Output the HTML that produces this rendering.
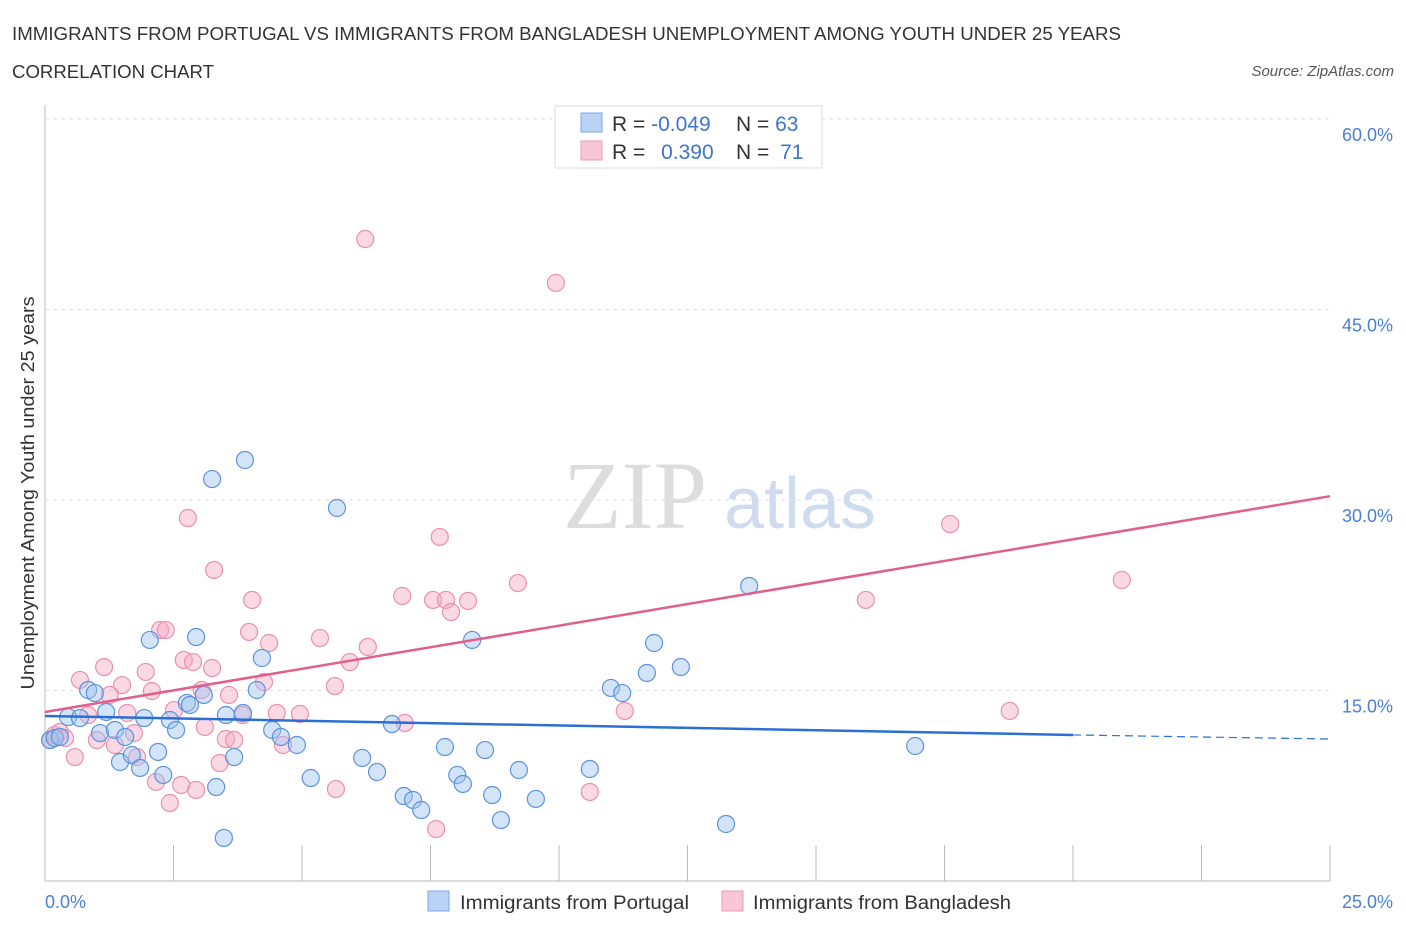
<!DOCTYPE html>
<html><head><meta charset="utf-8"><style>
body{margin:0;background:#fff;font-family:"Liberation Sans",sans-serif;}
svg text{font-family:"Liberation Sans",sans-serif;}
</style></head><body>
<svg id="c" width="1406" height="930" xmlns="http://www.w3.org/2000/svg">
<text x="12" y="40" font-size="18" fill="#333" textLength="1109" lengthAdjust="spacingAndGlyphs">IMMIGRANTS FROM PORTUGAL VS IMMIGRANTS FROM BANGLADESH UNEMPLOYMENT AMONG YOUTH UNDER 25 YEARS</text>
<text x="12" y="78" font-size="18" fill="#333" textLength="202" lengthAdjust="spacingAndGlyphs">CORRELATION CHART</text>
<text x="1394" y="76" font-size="15" fill="#555" font-style="italic" text-anchor="end">Source: ZipAtlas.com</text>
<text x="635" y="528" font-size="96" fill="#ddd" text-anchor="middle" style="font-family:'Liberation Serif',serif">ZIP</text>
<text x="800" y="528" font-size="72" fill="#cfdcf0" text-anchor="middle">atlas</text>
<g id="grid"></g><g id="marks"></g>
<text transform="translate(34,493) rotate(-90)" font-size="18" fill="#333" text-anchor="middle" textLength="393" lengthAdjust="spacingAndGlyphs">Unemployment Among Youth under 25 years</text>
<text x="45" y="908" font-size="18" fill="#4a7fd4">0.0%</text>
<text x="1393" y="908" font-size="18" fill="#4a7fd4" text-anchor="end">25.0%</text>
<rect x="555" y="106" width="267" height="62" fill="#fff" stroke="#ddd"/>
<rect x="581" y="113" width="21" height="19" fill="#b8d3f5" stroke="#7aa7e6"/>
<rect x="581" y="141" width="21" height="19" fill="#f9c6d6" stroke="#eb99b4"/>
<text x="612" y="131" font-size="21" fill="#333">R = <tspan fill="#3d74cc">-0.049</tspan></text>
<text x="736" y="131" font-size="21" fill="#333">N = <tspan fill="#3d74cc">63</tspan></text>
<text x="612" y="159" font-size="21" fill="#333">R = <tspan fill="#3d74cc" dx="10">0.390</tspan></text>
<text x="736" y="159" font-size="21" fill="#333">N = <tspan fill="#3d74cc" dx="5">71</tspan></text>
<rect x="428" y="891" width="21" height="20" fill="#b8d3f5" stroke="#7aa7e6"/>
<text x="460" y="909" font-size="19" fill="#333" textLength="229" lengthAdjust="spacingAndGlyphs">Immigrants from Portugal</text>
<rect x="722" y="891" width="21" height="20" fill="#f9c6d6" stroke="#eb99b4"/>
<text x="753" y="909" font-size="19" fill="#333" textLength="258" lengthAdjust="spacingAndGlyphs">Immigrants from Bangladesh</text>
</svg>
<script>
const yTicks=[15,30,45,60];
const yTickLabels=["15.0%","30.0%","45.0%","60.0%"];
const xTicks=[0,2.5,5,7.5,10,12.5,15,17.5,20,22.5,25];
const blueX=[0.10,0.19,0.29,0.45,0.68,0.84,0.97,1.07,1.19,1.36,1.46,1.56,1.69,1.85,1.93,2.04,2.20,2.30,2.43,2.55,2.76,2.82,2.94,3.09,3.25,3.33,3.48,3.52,3.68,3.85,3.89,4.12,4.22,4.42,4.59,4.90,5.17,5.68,6.17,6.46,6.75,6.98,7.16,7.32,7.78,8.02,8.13,8.31,8.56,8.70,8.87,9.22,9.55,10.60,11.01,11.23,11.71,11.85,12.37,13.25,13.70,16.93];
const blueY=[11.10,11.26,11.34,12.91,12.83,15.04,14.80,11.65,13.31,11.89,9.37,11.34,9.92,8.90,12.83,18.98,10.16,8.35,12.68,11.89,14.02,13.86,19.21,14.65,31.65,7.40,3.39,13.07,9.76,13.23,33.15,15.04,17.56,11.89,11.34,10.71,8.11,29.37,9.69,8.58,12.36,6.69,6.38,5.59,10.55,8.35,7.64,18.98,10.31,6.77,4.80,8.74,6.46,8.82,15.20,14.80,16.38,18.74,16.85,4.49,23.23,10.63];
const pinkX=[0.10,0.19,0.29,0.39,0.58,0.68,0.84,1.01,1.15,1.26,1.36,1.50,1.60,1.73,1.79,1.96,2.08,2.16,2.24,2.35,2.43,2.51,2.65,2.70,2.78,2.88,2.94,3.05,3.11,3.25,3.29,3.40,3.52,3.58,3.68,3.85,3.97,4.03,4.26,4.36,4.51,4.63,4.96,5.35,5.64,5.66,5.93,6.23,6.28,6.95,7.00,7.55,7.61,7.68,7.80,7.90,8.23,9.20,9.94,10.60,11.28,15.97,17.61,18.77,20.95];
const pinkY=[11.10,11.50,11.73,11.26,9.76,15.83,13.07,11.10,16.85,14.65,10.71,15.43,13.23,11.65,9.76,16.46,14.96,7.80,19.76,19.76,6.14,13.46,7.56,17.40,28.58,17.24,7.17,15.04,12.13,16.77,24.49,9.29,11.18,14.65,11.10,13.07,19.61,22.13,15.67,18.74,13.23,10.71,13.15,19.13,15.35,7.24,17.24,50.55,18.43,22.44,12.44,22.13,4.09,27.09,22.13,21.18,22.05,23.46,47.09,7.01,13.39,22.13,28.11,13.39,23.70];
const blueTrend=[[0,12.99],[20,11.5],[25,11.18]];
const pinkTrend=[[0,13.31],[25,30.3]];
const NS='http://www.w3.org/2000/svg';
const X=v=>45+v/25*1285, Y=v=>881-v*12.7;
const grid=document.getElementById('grid'), marks=document.getElementById('marks');
function mk(tag,at,parent){const e=document.createElementNS(NS,tag);for(const k in at)e.setAttribute(k,at[k]);parent.appendChild(e);return e;}
let ax=mk('line',{x1:45,y1:105,x2:45,y2:881,stroke:'#bbb'},grid);


let bx=mk('line',{x1:45,y1:881,x2:1330,y2:881,stroke:'#bbb'},grid);


yTicks.forEach((t,i)=>{
 let g=mk('line',{x1:45,y1:Y(t),x2:1330,y2:Y(t),stroke:'#e2e2e2','stroke-dasharray':'4,4'},grid);
 
 
 let tx=mk('text',{x:1393,y:Y(t)+22,'font-size':18,fill:'#4a7fd4','text-anchor':'end'},grid);tx.textContent=yTickLabels[i];
 
 
});
xTicks.forEach(t=>{let l=mk('line',{x1:X(t),y1:845,x2:X(t),y2:881,stroke:'#bbb'},grid);
 
 });
pinkX.forEach((x,i)=>{let c=mk('circle',{cx:X(x),cy:Y(pinkY[i]),r:8.5,fill:'rgba(244,170,195,0.45)',stroke:'#e990ae','stroke-width':1.2},marks);
 
 });
blueX.forEach((x,i)=>{let c=mk('circle',{cx:X(x),cy:Y(blueY[i]),r:8.5,fill:'rgba(160,195,240,0.45)',stroke:'#5c93dc','stroke-width':1.2},marks);
 
 });
let pl=mk('line',{x1:X(pinkTrend[0][0]),y1:Y(pinkTrend[0][1]),x2:X(pinkTrend[1][0]),y2:Y(pinkTrend[1][1]),stroke:'#e0608c','stroke-width':2.5},marks);


let bl=mk('line',{x1:X(blueTrend[0][0]),y1:Y(blueTrend[0][1]),x2:X(blueTrend[1][0]),y2:Y(blueTrend[1][1]),stroke:'#2b6fd4','stroke-width':2.5},marks);


let bd=mk('line',{x1:X(blueTrend[1][0]),y1:Y(blueTrend[1][1]),x2:X(blueTrend[2][0]),y2:Y(blueTrend[2][1]),stroke:'#2b6fd4','stroke-width':1.2,'stroke-dasharray':'8,5'},marks);


</script>
</body></html>
